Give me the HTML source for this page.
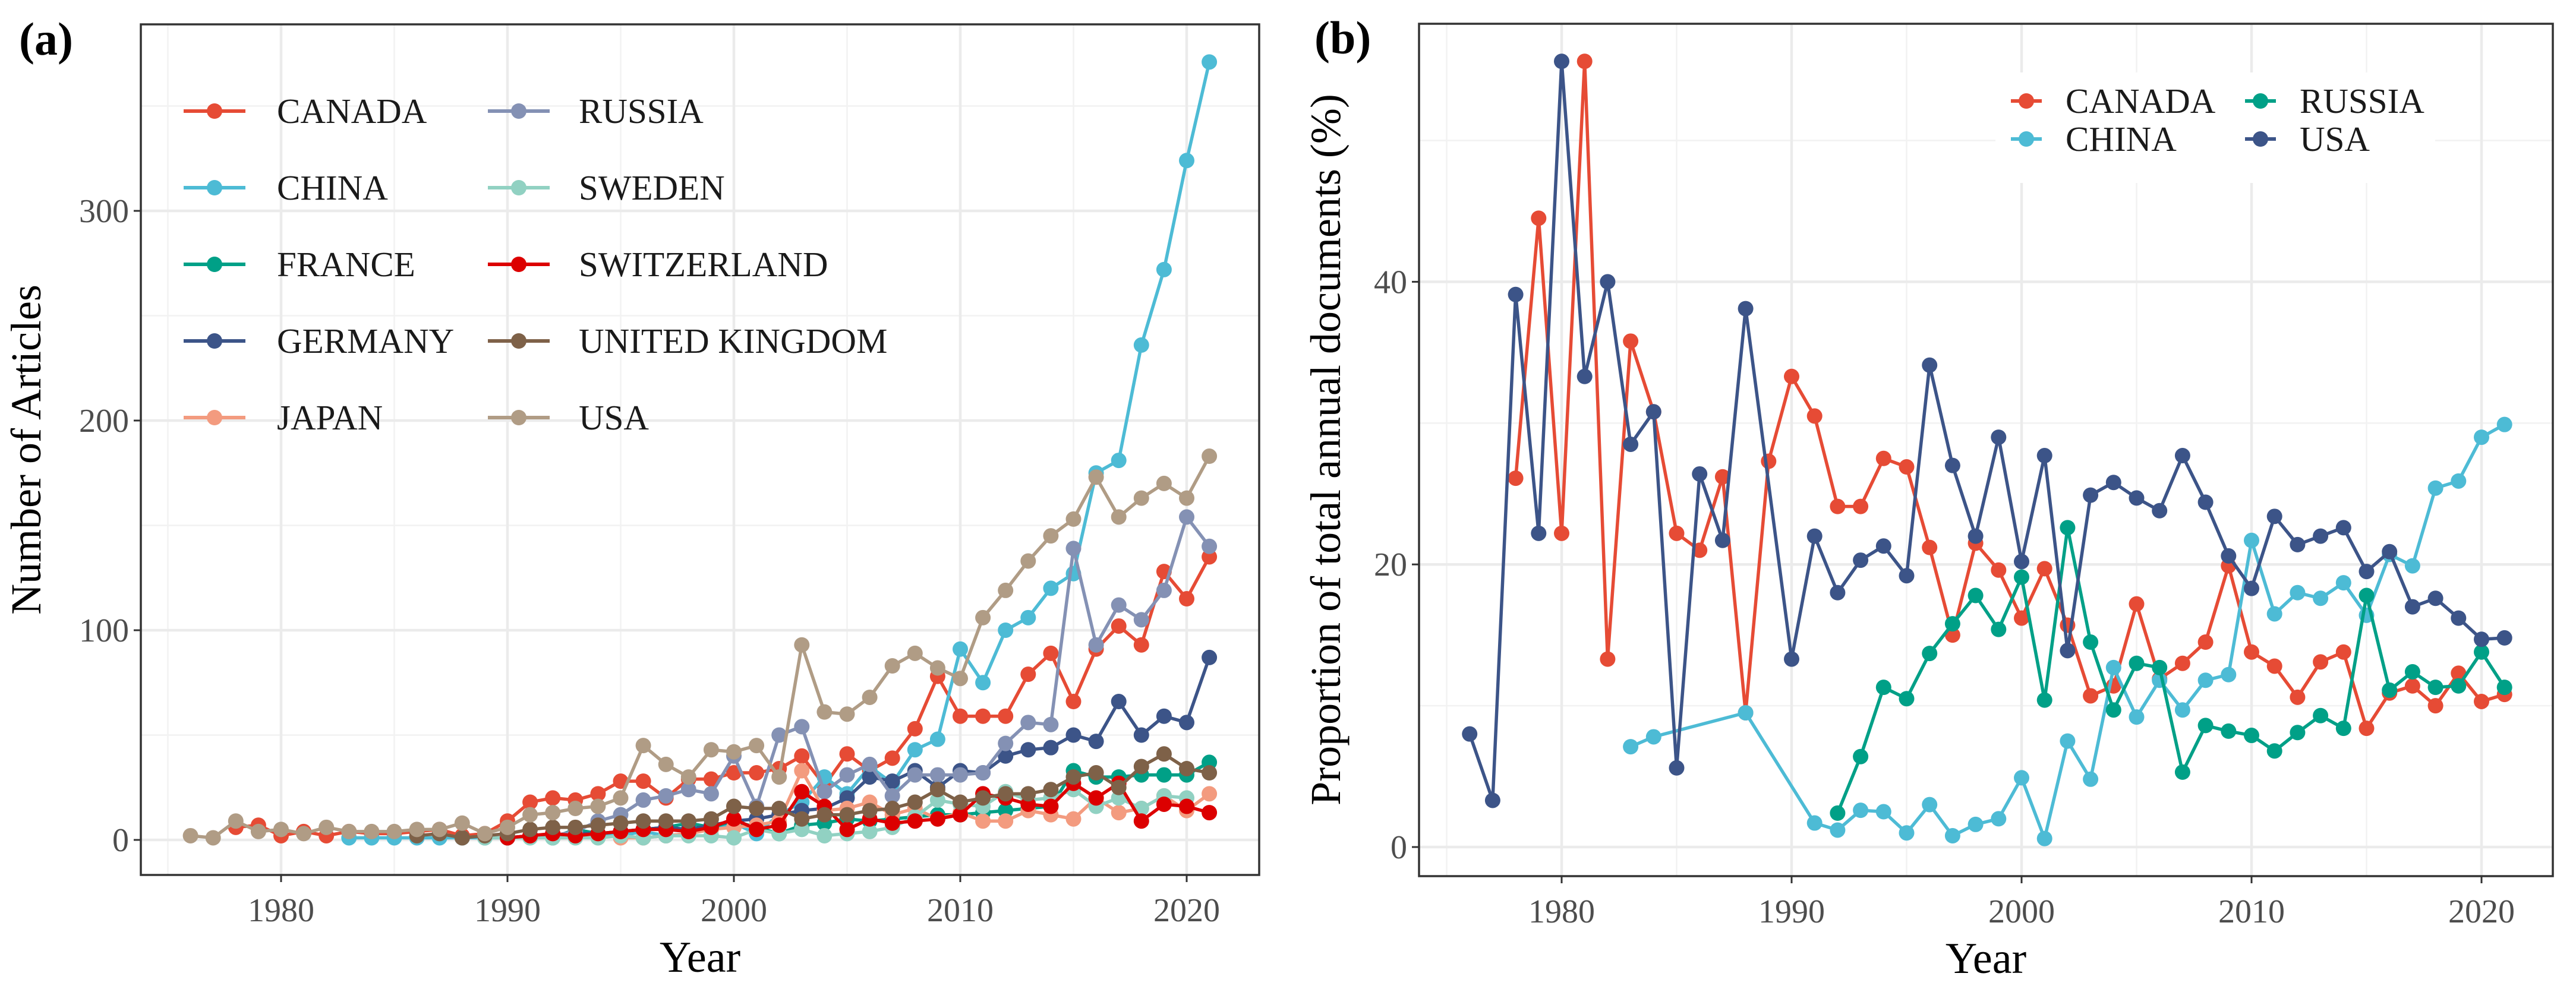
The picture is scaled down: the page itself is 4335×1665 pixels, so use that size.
<!DOCTYPE html>
<html><head><meta charset="utf-8"><style>
html,body{margin:0;padding:0;background:#fff}
svg{display:block;font-family:"Liberation Serif",serif}
</style></head><body>
<svg id="chart" width="4335" height="1665" viewBox="0 0 4335 1665" xmlns="http://www.w3.org/2000/svg">
<rect width="4335" height="1665" fill="#fff"/>
<g id="pa"></g>
<g id="pb"></g>
</svg>
<script>
// ---------- Panel A data ----------
const aNames = ["CANADA","CHINA","FRANCE","GERMANY","JAPAN","RUSSIA","SWEDEN","SWITZERLAND","UNITED KINGDOM","USA"];
const aColors = ["#E64B35","#4DBBD5","#00A087","#3C5488","#F39B7F","#8491B4","#91D1C2","#DC0000","#7E6148","#B09C85"];
const aCanadaStart = 1978;
const aCanada = [6,7,2,4,2,4,3,3,4,5,2,3,9,18,20,19,22,28,28,20,29,29,32,32,34,40,26,41,33,39,53,78,59,59,59,79,89,66,91,102,93,128,115,135];
const aChinaStart = 1983;
const aChina = [1,1,1,1,1,1,1,1,2,2,3,3,2,4,2,3,5,8,3,12,18,30,22,35,27,43,48,91,75,100,106,120,127,175,181,236,272,324,371];
const aFranceStart = 1992;
const aFrance = [1,5,3,4,5,6,8,6,9,6,3,7,8,10,9,10,11,12,12,13,14,15,16,33,30,30,31,31,31,37];
const aGermanyStart = 1990;
const aGermany = [1,2,2,3,3,4,5,6,5,7,9,10,12,14,15,20,30,28,33,25,33,32,40,43,44,50,47,66,50,59,56,87];
const aJapanStart = 1995;
const aJapan = [1,1,2,3,5,6,7,9,33,14,15,18,12,15,10,13,9,9,14,12,10,20,13,15,21,14,22];
const aRussiaStart = 1992;
const aRussia = [2,4,9,12,19,21,24,22,40,16,50,54,23,31,36,21,31,31,31,32,46,56,55,139,93,112,105,119,154,140];
const aSwedenStart = 1989;
const aSweden = [1,1,1,1,1,1,2,1,2,2,2,1,5,3,5,2,3,4,6,11,19,17,16,23,19,20,24,16,20,15,21,20];
const aSwitzStart = 1990;
const aSwitz = [1,2,3,2,3,4,5,5,4,6,10,5,7,23,16,5,10,8,9,10,12,22,20,17,16,27,20,27,9,17,16,13];
const aUkStart = 1986;
const aUk = [2,3,1,2,3,5,6,6,7,8,9,9,9,10,16,15,15,10,12,12,14,15,18,24,18,20,22,22,24,30,32,25,35,41,34,32];
const aUsaStart = 1976;
const aUsa = [2,1,9,4,5,3,6,4,4,4,5,5,8,3,6,12,13,15,16,20,45,36,30,43,42,45,30,93,61,60,68,83,89,82,77,106,119,133,145,153,173,154,163,170,163,183];
const aStarts = [aCanadaStart,aChinaStart,aFranceStart,aGermanyStart,aJapanStart,aRussiaStart,aSwedenStart,aSwitzStart,aUkStart,aUsaStart];
const aSeries = [aCanada,aChina,aFrance,aGermany,aJapan,aRussia,aSweden,aSwitz,aUk,aUsa];
const aYTicks = [0,100,200,300];
const xTicks = [1980,1990,2000,2010,2020];

// ---------- Panel B data ----------
const bNames = ["CANADA","CHINA","RUSSIA","USA"];
const bColors = ["#E64B35","#4DBBD5","#00A087","#3C5488"];
const bCanadaYears = [1978,1979,1980,1981,1982,1983,1984,1985,1986,1987,1988,1989,1990,1991,1992,1993,1994,1995,1996,1997,1998,1999,2000,2001,2002,2003,2004,2005,2006,2007,2008,2009,2010,2011,2012,2013,2014,2015,2016,2017,2018,2019,2020,2021];
const bCanada = [26.1,44.5,22.2,55.6,13.3,35.8,30.8,22.2,21,26.2,9.5,27.3,33.3,30.5,24.1,24.1,27.5,26.9,21.2,15,21.5,19.6,16.2,19.7,15.7,10.7,11.4,17.2,11.9,13,14.5,19.9,13.8,12.8,10.6,13.1,13.8,8.4,10.9,11.4,10,12.3,10.3,10.8];
const bChinaYears = [1983,1984,1988,1991,1992,1993,1994,1995,1996,1997,1998,1999,2000,2001,2002,2003,2004,2005,2006,2007,2008,2009,2010,2011,2012,2013,2014,2015,2016,2017,2018,2019,2020,2021];
const bChina = [7.1,7.8,9.5,1.7,1.2,2.6,2.5,1,3,0.8,1.6,2,4.9,0.6,7.5,4.8,12.7,9.2,11.8,9.7,11.8,12.2,21.7,16.5,18,17.6,18.7,16.4,20.7,19.9,25.4,25.9,29,29.9];
const bRussiaYears = [1992,1993,1994,1995,1996,1997,1998,1999,2000,2001,2002,2003,2004,2005,2006,2007,2008,2009,2010,2011,2012,2013,2014,2015,2016,2017,2018,2019,2020,2021];
const bRussia = [2.4,6.4,11.3,10.5,13.7,15.8,17.8,15.4,19.1,10.4,22.6,14.5,9.7,13,12.7,5.3,8.6,8.2,7.9,6.8,8.1,9.3,8.4,17.8,11.1,12.4,11.3,11.4,13.8,11.3];
const bUsaYears = [1976,1977,1978,1979,1980,1981,1982,1983,1984,1985,1986,1987,1988,1990,1991,1992,1993,1994,1995,1996,1997,1998,1999,2000,2001,2002,2003,2004,2005,2006,2007,2008,2009,2010,2011,2012,2013,2014,2015,2016,2017,2018,2019,2020,2021];
const bUsa = [8,3.3,39.1,22.2,55.6,33.3,40,28.5,30.8,5.6,26.4,21.7,38.1,13.3,22,18,20.3,21.3,19.2,34.1,27,22,29,20.2,27.7,13.9,24.9,25.8,24.7,23.8,27.7,24.4,20.6,18.3,23.4,21.4,22,22.6,19.5,20.9,17,17.6,16.2,14.7,14.8];
const bYearsList = [bCanadaYears,bChinaYears,bRussiaYears,bUsaYears];
const bSeries = [bCanada,bChina,bRussia,bUsa];
const bYTicks = [0,20,40];

const NS="http://www.w3.org/2000/svg";
function mk(parent,tag,attrs,text){const e=document.createElementNS(NS,tag);for(const k in attrs)e.setAttribute(k,attrs[k]);if(text!==undefined)e.textContent=text;parent.appendChild(e);return e;}

function panel(g,cfg){
  const {L,R,T,B,x,y,yTicks,yMinor,xMinor}=cfg;
  const grid=mk(g,'g',{});
  
  
  yMinor.forEach(v=>mk(grid,'line',{x1:L,x2:R,y1:y(v),y2:y(v),stroke:'#f2f2f2','stroke-width':2.5}));
  xMinor.forEach(v=>mk(grid,'line',{x1:x(v),x2:x(v),y1:T,y2:B,stroke:'#f2f2f2','stroke-width':2.5}));
  yTicks.forEach(v=>mk(grid,'line',{x1:L,x2:R,y1:y(v),y2:y(v),stroke:'#ebebeb','stroke-width':4.5}));
  xTicks.forEach(v=>mk(grid,'line',{x1:x(v),x2:x(v),y1:T,y2:B,stroke:'#ebebeb','stroke-width':4.5}));
  const ax=mk(g,'g',{});
  
  
  yTicks.forEach(v=>{
    mk(ax,'line',{x1:L-12,x2:L,y1:y(v),y2:y(v),stroke:'#333','stroke-width':3});
    const t=mk(ax,'text',{x:L-20,y:y(v)+19,'text-anchor':'end','font-size':56,fill:'#4d4d4d'},String(v));
    
    
  });
  xTicks.forEach(v=>{
    mk(ax,'line',{x1:x(v),x2:x(v),y1:B,y2:B+12,stroke:'#333','stroke-width':3});
    const t=mk(ax,'text',{x:x(v),y:B+78,'text-anchor':'middle','font-size':56,fill:'#4d4d4d'},String(v));
    
    
  });
}
function series(g,pts,color,name){
  const s=mk(g,'g',{});
  
  
  mk(s,'polyline',{points:pts.map(p=>p.join(',')).join(' '),fill:'none',stroke:color,'stroke-width':5.5,'stroke-linejoin':'round'});
  pts.forEach(p=>{const c=mk(s,'circle',{cx:p[0],cy:p[1],r:13,fill:color});
    
    });
}

// Panel A
(function(){
  const g=document.getElementById('pa');
  const L=237,R=2119,T=41,B=1473;
  const x=v=>473+(v-1980)*38.1, y=v=>1414-v*3.53;
  panel(g,{L,R,T,B,x,y,yTicks:aYTicks,yMinor:[50,150,250,350],xMinor:[1975,1985,1995,2005,2015]});
  aSeries.forEach((arr,i)=>series(g,arr.map((v,j)=>[x(aStarts[i]+j),y(v)]),aColors[i],aNames[i]));
  mk(g,'rect',{x:L,y:T,width:R-L,height:B-T,fill:'none',stroke:'#333','stroke-width':3.5});
  const lg=mk(g,'g',{});
  
  
  aNames.forEach((n,i)=>{
    const col=Math.floor(i/5),row=i%5;
    const kx=col?821:309, tx=col?974:466, ky=187+row*129;
    const e=mk(lg,'g',{});
    
    
    mk(e,'line',{x1:kx,x2:kx+104,y1:ky,y2:ky,stroke:aColors[i],'stroke-width':6});
    mk(e,'circle',{cx:kx+52,cy:ky,r:13,fill:aColors[i]});
    mk(e,'text',{x:tx,y:ky+20,'font-size':59,fill:'#1a1a1a'},n);
  });
  const t1=mk(g,'text',{x:1178,y:1636,'text-anchor':'middle','font-size':74,fill:'#000'},'Year');
  
  
  const t2=mk(g,'text',{x:68,y:757,'text-anchor':'middle','font-size':72,fill:'#000',transform:'rotate(-90 68 757)'},'Number of Articles');
  
  
  const t3=mk(g,'text',{x:32,y:92,'font-size':78,'font-weight':'bold',fill:'#000'},'(a)');
  
  
})();

// Panel B
(function(){
  const g=document.getElementById('pb');
  const L=2388,R=4296,T=40,B=1475;
  const x=v=>2628+(v-1980)*38.7, y=v=>1426-v*23.79;
  panel(g,{L,R,T,B,x,y,yTicks:bYTicks,yMinor:[10,30,50],xMinor:[1975,1985,1995,2005,2015]});
  bSeries.forEach((arr,i)=>series(g,arr.map((v,j)=>[x(bYearsList[i][j]),y(v)]),bColors[i],bNames[i]));
  mk(g,'rect',{x:L,y:T,width:R-L,height:B-T,fill:'none',stroke:'#333','stroke-width':3.5});
  const lg=mk(g,'g',{});
  
  
  mk(lg,'rect',{x:3358,y:122,width:740,height:186,fill:'#fff'});
  bNames.forEach((n,i)=>{
    const col=Math.floor(i/2),row=i%2;
    const kx=col?3804:3410, ky=170+row*64;
    const e=mk(lg,'g',{});
    
    
    mk(e,'line',{x1:kx-26,x2:kx+26,y1:ky,y2:ky,stroke:bColors[i],'stroke-width':6});
    mk(e,'circle',{cx:kx,cy:ky,r:13,fill:bColors[i]});
    mk(e,'text',{x:kx+66,y:ky+20,'font-size':59,fill:'#1a1a1a'},n);
  });
  const t1=mk(g,'text',{x:3342,y:1638,'text-anchor':'middle','font-size':74,fill:'#000'},'Year');
  
  
  const t2=mk(g,'text',{x:2255,y:757,'text-anchor':'middle','font-size':72,fill:'#000',transform:'rotate(-90 2255 757)'},'Proportion of total annual documents (%)');
  
  
  const t3=mk(g,'text',{x:2212,y:90,'font-size':78,'font-weight':'bold',fill:'#000'},'(b)');
  
  
})();
</script>
</body></html>
